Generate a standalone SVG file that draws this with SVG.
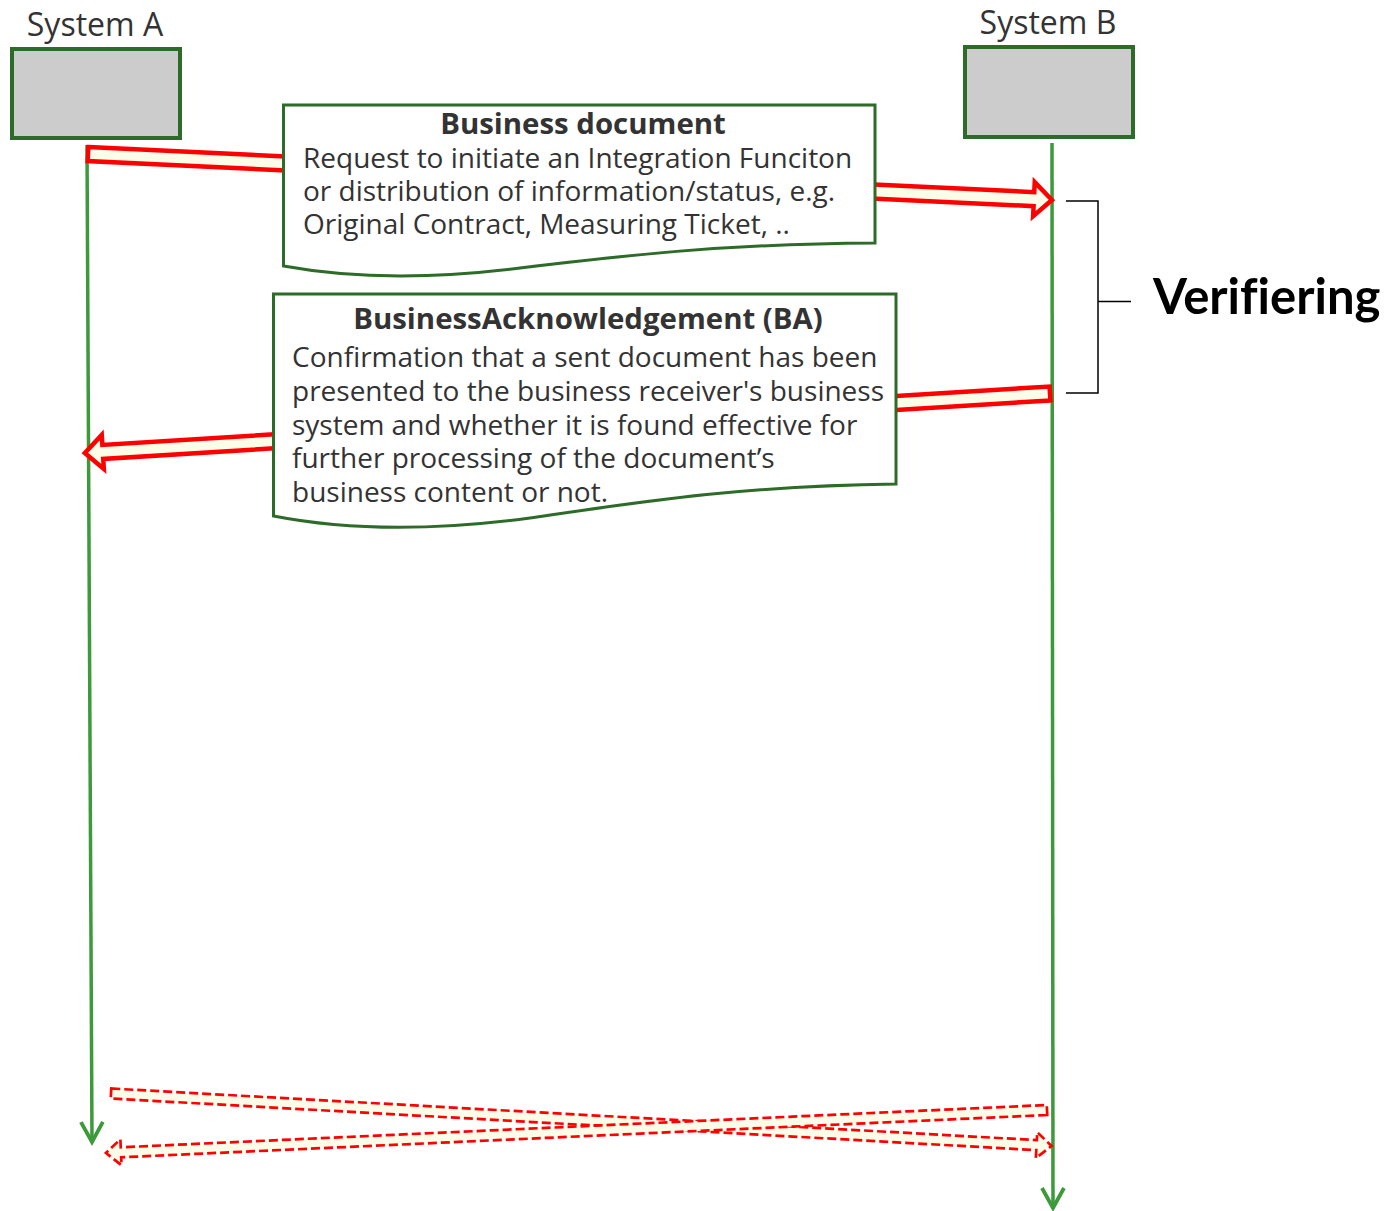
<svg xmlns="http://www.w3.org/2000/svg" width="1384" height="1211" viewBox="0 0 1384 1211">
<style>
.sys{fill:#cccccc;stroke:#2d6b29;stroke-width:4}
.lbl{font-family:"Open Sans","Noto Sans",sans-serif;font-size:32px;fill:#333333}
.life{stroke:#3d9a3a;stroke-width:3.5;fill:none}
.blk{fill:#fbfde8;stroke:#ff0000;stroke-width:4.5;stroke-linejoin:miter}
.dsh{fill:#fbfde8;stroke:#ff0000;stroke-width:2.7;stroke-dasharray:9 4}
.doc{fill:#ffffff;stroke:#2d6b29;stroke-width:3}
.t{font-family:"Open Sans","Noto Sans",sans-serif;font-size:28px;fill:#333333}
.tb{font-weight:bold;font-size:29.4px}
.br{fill:none;stroke:#000000;stroke-width:1.5}
.ver{font-family:Lato,"Open Sans",sans-serif;font-size:49px;font-weight:bold;fill:#000000;font-variant-ligatures:none}
</style>
<defs>
<marker id="chev" markerUnits="userSpaceOnUse" orient="auto" refX="0" refY="0" markerWidth="30" markerHeight="30" overflow="visible">
<path d="M-20,-11 L0,0 L-20,11" fill="none" stroke="#3d9a3a" stroke-width="3.8"/>
</marker>
</defs>

<g id="systemA">
<rect class="sys" x="12" y="49" width="168" height="89"/>
<text class="lbl" x="95" y="36" text-anchor="middle">System A</text>
</g>
<g id="systemB">
<rect class="sys" x="965" y="47" width="168" height="90"/>
<text class="lbl" x="1048" y="34" text-anchor="middle">System B</text>
</g>

<g id="connectors">
<line class="life" x1="87" y1="145" x2="92" y2="1142" marker-end="url(#chev)"/>
<line class="life" x1="1052" y1="143" x2="1053" y2="1208" marker-end="url(#chev)"/>
<polygon class="blk" transform="translate(88,154) rotate(2.732)" points="0,-7 947,-7 947,-17 965,0 947,17 947,7 0,7"/>
<polygon class="blk" transform="translate(1050,393.5) rotate(176.472)" points="0,-7 949,-7 949,-17 967,0 949,17 949,7 0,7"/>
<polygon class="dsh" transform="translate(111,1093.5) rotate(3.193)" points="0,-5 927,-5 927,-13 942,0 927,13 927,5 0,5"/>
<polygon class="dsh" transform="translate(1047,1110) rotate(177.384)" points="0,-5 927,-5 927,-13 942,0 927,13 927,5 0,5"/>
</g>

<g id="businessDocument">
<path class="doc" d="M283.5,105 H875 V243 C720,244 620,256 520,268 C440,278 360,280 283.5,266 Z"/>
<text class="t tb" x="583" y="134" text-anchor="middle">Business document</text>
<text class="t" x="303" y="168">Request to initiate an Integration Funciton</text>
<text class="t" x="303" y="201">or distribution of information/status, e.g.</text>
<text class="t" x="303" y="234">Original Contract, Measuring Ticket, ..</text>
</g>

<g id="businessAck">
<path class="doc" d="M273.5,294 H896 V484 C740,486 640,502 530,518 C440,530 350,531 273.5,516 Z"/>
<text class="t tb" x="588" y="329" text-anchor="middle">BusinessAcknowledgement (BA)</text>
<text class="t" x="292" y="367">Confirmation that a sent document has been</text>
<text class="t" x="292" y="401">presented to the business receiver's business</text>
<text class="t" x="292" y="435">system and whether it is found effective for</text>
<text class="t" x="292" y="468">further processing of the document’s</text>
<text class="t" x="292" y="502">business content or not.</text>
</g>

<g id="verifiering">
<path class="br" d="M1066,201 H1098 V393 H1066 M1098,301.5 H1131"/>
<text class="ver" x="1153" y="314">Verifiering</text>
</g>
</svg>
